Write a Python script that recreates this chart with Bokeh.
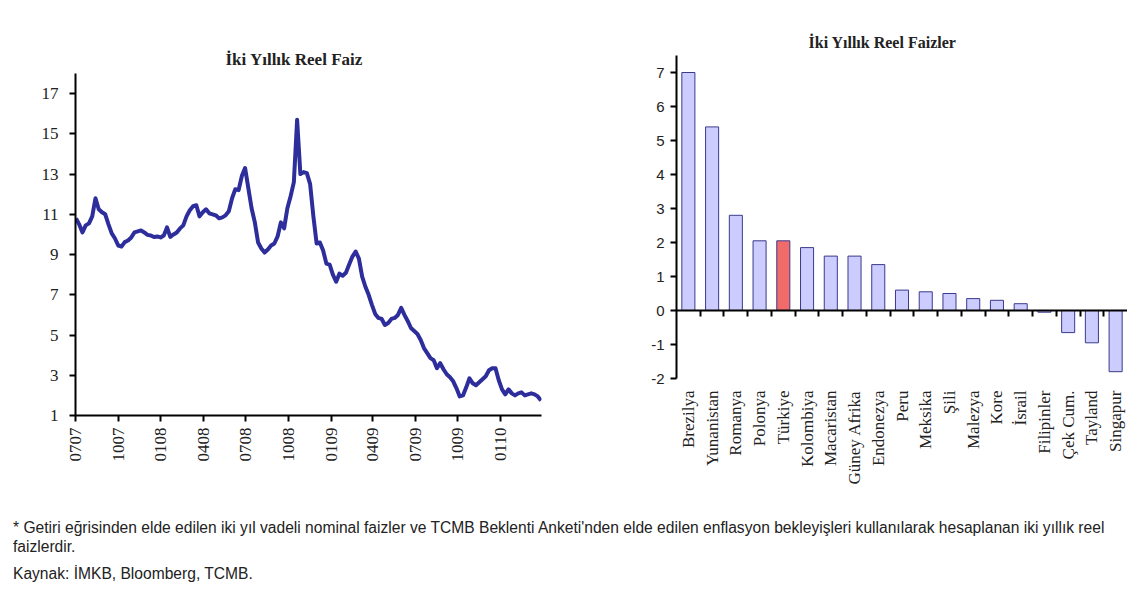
import numpy as np
import pandas as pd
from bokeh.plotting import figure
from bokeh.models import Range1d, FixedTicker, DatetimeTickFormatter, LinearAxis, Div
from bokeh.layouts import row, column
from bokeh.embed import file_html
from bokeh.resources import INLINE

# ---------------- data: left chart (weekly two-year real rate, %) ----------------
series_start = "2007-07-02"
real_rate = [
    10.8, 10.5, 10.1, 10.45, 10.55, 10.9, 11.8, 11.25, 11.1, 11.0,
    10.5, 10.05, 9.8, 9.45, 9.4, 9.62, 9.7, 9.85, 10.1, 10.15,
    10.2, 10.1, 9.98, 9.95, 9.87, 9.9, 9.85, 9.95, 10.35, 9.88,
    10.0, 10.1, 10.3, 10.45, 10.9, 11.2, 11.4, 11.45, 10.9, 11.1,
    11.25, 11.05, 11.0, 10.95, 10.8, 10.85, 10.95, 11.15, 11.8, 12.25,
    12.2, 12.9, 13.3, 12.3, 11.3, 10.6, 9.6, 9.3, 9.1, 9.25,
    9.45, 9.55, 9.9, 10.6, 10.3, 11.3, 11.9, 12.6, 15.7, 13.0,
    13.1, 13.05, 12.5, 10.9, 9.55, 9.6, 9.2, 8.55, 8.5, 8.0,
    7.65, 8.05, 7.95, 8.1, 8.5, 8.9, 9.15, 8.8, 7.9, 7.4,
    7.0, 6.5, 6.05, 5.85, 5.8, 5.5, 5.6, 5.8, 5.85, 6.0,
    6.35, 6.0, 5.7, 5.35, 5.2, 5.05, 4.75, 4.35, 4.1, 3.85,
    3.75, 3.35, 3.6, 3.3, 3.05, 2.9, 2.7, 2.35, 1.95, 2.0,
    2.4, 2.85, 2.6, 2.5, 2.65, 2.8, 2.95, 3.25, 3.35, 3.35,
    2.75, 2.3, 2.05, 2.3, 2.1, 2.0, 2.1, 2.15, 2.0, 2.05,
    2.1, 2.05, 1.95, 1.75,
]
x_tick_dates = ["2007-07-01", "2007-10-01", "2008-01-01", "2008-04-01", "2008-07-01",
                "2008-10-01", "2009-01-01", "2009-04-01", "2009-07-01", "2009-10-01",
                "2010-01-01"]
y_ticks_left = [1, 3, 5, 7, 9, 11, 13, 15, 17]

# ---------------- data: right chart (two-year real rates by country) ----------------
countries = ["Brezilya", "Yunanistan", "Romanya", "Polonya", "Türkiye", "Kolombiya",
             "Macaristan", "Güney Afrika", "Endonezya", "Peru", "Meksika", "Şili",
             "Malezya", "Kore", "İsrail", "Filipinler", "Çek Cum.", "Tayland", "Singapur"]
country_rates = [7.0, 5.4, 2.8, 2.05, 2.05, 1.85, 1.6, 1.6, 1.35, 0.6, 0.55, 0.5,
                 0.35, 0.3, 0.2, -0.05, -0.65, -0.95, -1.8]
highlight_country = "Türkiye"
y_ticks_right = [-2, -1, 0, 1, 2, 3, 4, 5, 6, 7]

footnote_lines = [
    "* Getiri eğrisinden elde edilen iki yıl vadeli nominal faizler ve TCMB Beklenti Anketi'nden elde edilen enflasyon bekleyişleri kullanılarak hesaplanan iki yıllık reel",
    "faizlerdir.",
    "Kaynak: İMKB, Bloomberg, TCMB.",
]

SERIF = "Liberation Serif"
SANS = "Liberation Sans"

# ---------------- left chart ----------------
dates = pd.date_range(series_start, periods=len(real_rate), freq="7D")
tick_ms = [pd.Timestamp(d).value // 10**6 for d in x_tick_dates]

p1 = figure(width=565, height=490, x_axis_type="datetime",
            x_range=Range1d(pd.Timestamp("2007-07-01"), pd.Timestamp("2010-03-30")),
            y_range=Range1d(1, 18),
            output_backend="svg", toolbar_location=None,
            min_border_left=75, min_border_right=24, min_border_top=73, min_border_bottom=75)
p1.frame_align = False
p1.line(dates, real_rate, line_color="#2D2D9C", line_width=4, line_join="round")

p1.title.text = "İki Yıllık Reel Faiz"
p1.title.align = "left"
p1.title.offset = 150
p1.title.text_font = SERIF
p1.title.text_font_size = "17px"
p1.title.text_font_style = "bold"
p1.title.text_color = "#222222"

fmt = "%m%y"
p1.xaxis.formatter = DatetimeTickFormatter(microseconds=fmt, milliseconds=fmt, seconds=fmt,
                                           minsec=fmt, minutes=fmt, hourmin=fmt, hours=fmt,
                                           days=fmt, months=fmt, years=fmt)
p1.xaxis.ticker = FixedTicker(ticks=tick_ms)
p1.xaxis.major_label_orientation = np.pi / 2
p1.yaxis.ticker = FixedTicker(ticks=y_ticks_left)
for ax in (p1.xaxis, p1.yaxis):
    ax.axis_line_color = "black"
    ax.axis_line_width = 2
    ax.major_tick_line_color = "black"
    ax.major_tick_line_width = 2
    ax.major_tick_in = 0
    ax.major_tick_out = 6
    ax.minor_tick_line_color = None
    ax.major_label_text_font = SERIF
    ax.major_label_text_font_size = "17px"
    ax.major_label_text_color = "#222222"
p1.xaxis.major_label_standoff = 6
p1.yaxis.major_label_standoff = 11
p1.xgrid.grid_line_color = None
p1.ygrid.grid_line_color = None
p1.outline_line_color = None

# ---------------- right chart ----------------
xpos = list(range(1, len(countries) + 1))
bar_colors = ["#F26B6B" if c == highlight_country else "#CCCCFF" for c in countries]

p2 = figure(width=562, height=490,
            x_range=Range1d(0.5, len(countries) + 0.5), y_range=Range1d(-2, 7.5),
            output_backend="svg", toolbar_location=None,
            min_border_left=111, min_border_right=0, min_border_top=55, min_border_bottom=112)
p2.frame_align = False
p2.vbar(x=xpos, top=country_rates, bottom=0, width=0.55,
        fill_color=bar_colors, line_color="#3A3A8C", line_width=1)

p2.title.text = "İki Yıllık Reel Faizler"
p2.title.align = "left"
p2.title.offset = 132
p2.title.text_font = SERIF
p2.title.text_font_size = "16px"
p2.title.text_font_style = "bold"
p2.title.text_color = "#222222"

# category labels along the bottom
p2.xaxis.ticker = FixedTicker(ticks=xpos)
p2.xaxis.major_label_overrides = {i: c for i, c in zip(xpos, countries)}
p2.xaxis.major_label_orientation = np.pi / 2
p2.xaxis.axis_line_color = None
p2.xaxis.major_tick_line_color = None
p2.xaxis.minor_tick_line_color = None
p2.xaxis.major_label_text_font = SERIF
p2.xaxis.major_label_text_font_size = "17px"
p2.xaxis.major_label_text_color = "#222222"
p2.xaxis.major_label_standoff = 6

# zero line with ticks at the category boundaries (minor ticks: no labels)
zero_axis = LinearAxis(fixed_location=0,
                       ticker=FixedTicker(ticks=[], minor_ticks=[i + 0.5 for i in xpos[:-1]]),
                       axis_line_color="black", axis_line_width=2,
                       major_tick_line_color=None,
                       minor_tick_line_color="black", minor_tick_line_width=2,
                       minor_tick_in=6, minor_tick_out=0)
p2.add_layout(zero_axis, "above")

p2.yaxis.ticker = FixedTicker(ticks=y_ticks_right)
p2.yaxis.major_label_overrides = {t: str(t) for t in y_ticks_right}
p2.yaxis.axis_line_color = "black"
p2.yaxis.axis_line_width = 2
p2.yaxis.major_tick_line_color = "black"
p2.yaxis.major_tick_line_width = 2
p2.yaxis.major_tick_in = 0
p2.yaxis.major_tick_out = 6
p2.yaxis.minor_tick_line_color = None
p2.yaxis.major_label_text_font = SANS
p2.yaxis.major_label_text_font_size = "15px"
p2.yaxis.major_label_text_color = "#222222"
p2.yaxis.major_label_standoff = 6
p2.xgrid.grid_line_color = None
p2.ygrid.grid_line_color = None
p2.outline_line_color = None

# ---------------- footnote ----------------
div = Div(text=("<div style=\"font-family:'Liberation Sans',Arial,sans-serif;font-size:15.6px;"
                "line-height:19px;white-space:nowrap;color:#222;padding:23px 0 0 8px;\">"
                + footnote_lines[0] + "<br>" + footnote_lines[1]
                + "<div style=\"margin-top:8px\">" + footnote_lines[2] + "</div></div>"),
          width=1127, height=99, styles={"overflow": "hidden"})

layout = column(row(p1, p2, spacing=0), div, spacing=0)
open("out.html", "w").write(file_html(layout, INLINE))
